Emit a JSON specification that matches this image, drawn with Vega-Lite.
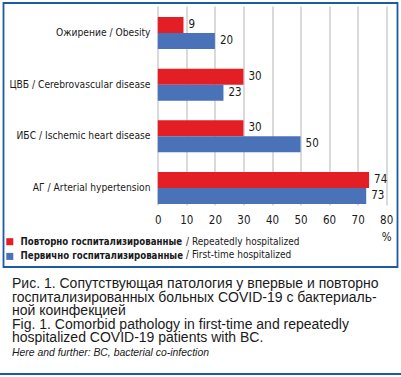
{
  "$schema": "https://vega.github.io/schema/vega-lite/v6.json",
  "padding": {"left": 0, "top": 2, "right": 0, "bottom": 0},
  "background": "white",
  "center": true,
  "bounds": "flush",
  "spacing": 106,
  "config": {
    "font": "DejaVu Sans Condensed",
    "view": {"stroke": null}
  },
  "datasets": {
    "bars": [
      {"cat": "Ожирение / Obesity", "group": "Повторно госпитализированные / Repeatedly hospitalized", "value": 9},
      {"cat": "Ожирение / Obesity", "group": "Первично госпитализированные / First-time hospitalized", "value": 20},
      {"cat": "ЦВБ / Cerebrovascular disease", "group": "Повторно госпитализированные / Repeatedly hospitalized", "value": 30},
      {"cat": "ЦВБ / Cerebrovascular disease", "group": "Первично госпитализированные / First-time hospitalized", "value": 23},
      {"cat": "ИБС / Ischemic heart disease", "group": "Повторно госпитализированные / Repeatedly hospitalized", "value": 30},
      {"cat": "ИБС / Ischemic heart disease", "group": "Первично госпитализированные / First-time hospitalized", "value": 50},
      {"cat": "АГ / Arterial hypertension", "group": "Повторно госпитализированные / Repeatedly hospitalized", "value": 74},
      {"cat": "АГ / Arterial hypertension", "group": "Первично госпитализированные / First-time hospitalized", "value": 73}
    ]
  },
  "vconcat": [
    {
      "width": 394,
      "height": 264,
      "title": {
        "text": ["Рис. 1. Сопутствующая патология у впервые и повторно", "госпитализированных больных COVID-19 с бактериаль-", "ной коинфекцией", "Fig. 1. Comorbid pathology in first-time and repeatedly", "hospitalized COVID-19 patients with BC."],
        "orient": "bottom",
        "anchor": "start",
        "frame": "group",
        "dx": 8.5,
        "offset": 9.5,
        "font": "Liberation Sans",
        "fontSize": 14,
        "fontWeight": "normal",
        "color": "#1a1a1a",
        "lineHeight": 13.4
      },
      "layer": [
        {
          "data": {"values": [{}]},
          "mark": {"type": "rect", "fill": "transparent", "stroke": "#1b5ba5", "strokeWidth": 1.8},
          "encoding": {
            "x": {"value": 0},
            "x2": {"value": "width"},
            "y": {"value": 0},
            "y2": {"value": "height"}
          }
        },
        {
          "data": {"name": "bars"},
          "mark": {"type": "bar"},
          "encoding": {
            "y": {
              "field": "cat",
              "type": "nominal",
              "scale": {
                "domain": ["Ожирение / Obesity", "ЦВБ / Cerebrovascular disease", "ИБС / Ischemic heart disease", "АГ / Arterial hypertension"],
                "range": [3, 202],
                "paddingInner": 0.381,
                "paddingOuter": 0.116,
                "align": 0.917
              },
              "axis": {
                "orient": "left",
                "offset": -146.5,
                "labelPadding": 0,
                "tickSize": 0,
                "ticks": false,
                "domain": false,
                "grid": false,
                "title": null,
                "labelFont": "DejaVu Sans Condensed",
                "labelFontSize": 10.2,
                "labelColor": "#1a1a1a",
                "labelLimit": 300,
                "labelAlign": "right"
              }
            },
            "yOffset": {
              "field": "group",
              "type": "nominal",
              "scale": {"domain": ["Повторно госпитализированные / Repeatedly hospitalized", "Первично госпитализированные / First-time hospitalized"]}
            },
            "x": {
              "field": "value",
              "type": "quantitative",
              "scale": {"domain": [0, 80], "range": [154.3, 382.7]},
              "axis": {
                "orient": "top",
                "offset": -211,
                "values": [0, 10, 20, 30, 40, 50, 60, 70, 80],
                "labelPadding": 0,
                "tickSize": 0,
                "ticks": false,
                "domain": false,
                "grid": true,
                "gridColor": "#b5b5b5",
                "gridWidth": 1,
                "title": null,
                "labelBaseline": "top",
                "labelFlush": false,
                "labelOverlap": false,
                "labelFont": "DejaVu Sans Condensed",
                "labelFontSize": 11.5,
                "labelColor": "#1a1a1a",
                "labelLineHeight": 17,
                "labelExpr": "datum.value == 80 ? ['80', '%'] : datum.label"
              }
            },
            "color": {
              "field": "group",
              "type": "nominal",
              "scale": {
                "domain": ["Повторно госпитализированные / Repeatedly hospitalized", "Первично госпитализированные / First-time hospitalized"],
                "range": ["#e31e24", "#4a72b9"]
              },
              "legend": {
                "orient": "none",
                "legendX": 5,
                "legendY": 233.9,
                "title": null,
                "symbolType": "square",
                "symbolSize": 49,
                "symbolStrokeWidth": 0,
                "labelFont": "DejaVu Sans Condensed",
                "labelFontWeight": "bold",
                "labelFontSize": 9.6,
                "labelColor": "#1a1a1a",
                "labelOffset": 6,
                "labelLimit": 300,
                "rowPadding": 3.7,
                "padding": 0,
                "labelExpr": "split(datum.label, ' / ')[0]"
              }
            }
          }
        },
        {
          "data": {"name": "bars"},
          "mark": {"type": "text", "align": "left", "baseline": "middle", "dx": 5, "fontSize": 11.5, "font": "DejaVu Sans Condensed", "color": "#1a1a1a"},
          "encoding": {
            "y": {"field": "cat", "type": "nominal"},
            "yOffset": {"field": "group", "type": "nominal"},
            "x": {"field": "value", "type": "quantitative"},
            "text": {"field": "value", "type": "quantitative"},
            "opacity": {
              "field": "group",
              "type": "nominal",
              "scale": {
                "domain": ["Первично госпитализированные / First-time hospitalized", "Повторно госпитализированные / Repeatedly hospitalized"],
                "range": [1, 1]
              },
              "legend": {
                "orient": "none",
                "legendX": 176,
                "legendY": 233.7,
                "values": ["Повторно госпитализированные / Repeatedly hospitalized", "Первично госпитализированные / First-time hospitalized"],
                "title": null,
                "symbolSize": 0,
                "symbolStrokeWidth": 0,
                "symbolOpacity": 0,
                "labelOffset": 0,
                "labelFont": "DejaVu Sans Condensed",
                "labelFontSize": 10,
                "labelColor": "#1a1a1a",
                "labelLimit": 300,
                "rowPadding": 3.3,
                "padding": 0,
                "labelExpr": "'/ ' + split(datum.label, ' / ')[1]"
              }
            }
          }
        }
      ]
    },
    {
      "width": 401,
      "height": 2,
      "data": {"values": [{}]},
      "mark": {"type": "rect", "color": "#1b5ba5"},
      "title": {
        "text": "Here and further: BC, bacterial co-infection",
        "orient": "top",
        "anchor": "start",
        "frame": "group",
        "dx": 12,
        "offset": 15,
        "font": "Liberation Sans",
        "fontStyle": "italic",
        "fontSize": 10.4,
        "fontWeight": "normal",
        "color": "#1a1a1a"
      }
    }
  ]
}
